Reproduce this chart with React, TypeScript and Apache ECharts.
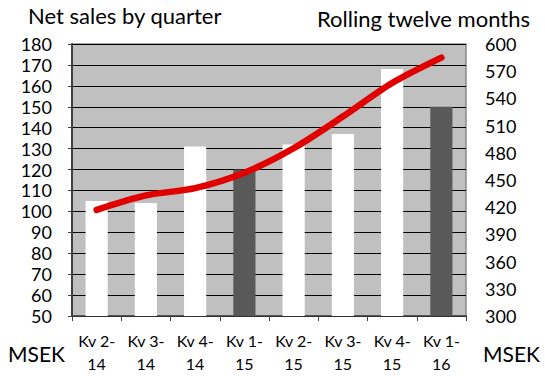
import React, { useEffect, useRef } from "react";
import * as echarts from "echarts";

const categories = ["Kv 2-\n14", "Kv 3-\n14", "Kv 4-\n14", "Kv 1-\n15", "Kv 2-\n15", "Kv 3-\n15", "Kv 4-\n15", "Kv 1-\n16"];
const quarterSales = [105, 104, 131, 120, 132, 137, 168, 150];
const highlighted = [false, false, false, true, false, false, false, true];
const rollingTwelve = [417, 433, 441, 458, 485, 520, 557, 585];

const FONT = "Lato";

export default function App() {
  const ref = useRef<HTMLDivElement>(null);
  useEffect(() => {
    if (!ref.current) return;
    const chart = echarts.init(ref.current, undefined, { renderer: "svg" });
    const label = (text: string, x: number, y: number, align: string, size: number) => ({
      type: "text",
      x,
      y,
      style: { text, fontFamily: FONT, fontSize: size, fill: "#000", align, verticalAlign: "middle" },
    });
    chart.setOption({
      animation: false,
      backgroundColor: "#ffffff",
      textStyle: { fontFamily: FONT },
      grid: {
        left: 72,
        right: 79,
        top: 44,
        bottom: 60,
        outerBoundsMode: "none",
        show: true,
        backgroundColor: "#c0c0c0",
        borderColor: "#8c8c8c",
        borderWidth: 1.5,
      },
      graphic: [
        label("Net sales by quarter", 28, 15, "left", 22),
        label("Rolling twelve months", 530, 18, "right", 22),
        label("MSEK", 8, 353, "left", 21),
        label("MSEK", 540, 353, "right", 21),
      ],
      xAxis: {
        type: "category",
        data: categories,
        axisLine: { show: true, lineStyle: { color: "#404040", width: 1.5 } },
        axisTick: { show: true, length: 5, lineStyle: { color: "#404040" } },
        axisLabel: { color: "#000", fontFamily: FONT, fontSize: 16, lineHeight: 23, margin: 13 },
      },
      yAxis: [
        {
          type: "value",
          min: 50,
          max: 180,
          interval: 10,
          axisLine: { show: true, lineStyle: { color: "#404040", width: 2 } },
          axisTick: { show: true, length: 4, lineStyle: { color: "#404040" } },
          splitLine: { show: true, lineStyle: { color: "#000", width: 1 } },
          axisLabel: { color: "#000", fontFamily: FONT, fontSize: 18, lineHeight: 20, margin: 20 },
        },
        {
          type: "value",
          min: 300,
          max: 600,
          interval: 30,
          axisLine: { show: false },
          axisTick: { show: false },
          splitLine: { show: false },
          axisLabel: { color: "#000", fontFamily: FONT, fontSize: 18, lineHeight: 20, margin: 19 },
        },
      ],
      series: [
        {
          type: "bar",
          yAxisIndex: 0,
          barWidth: "45%",
          data: quarterSales.map((v, i) => ({
            value: v,
            itemStyle: { color: highlighted[i] ? "#595959" : "#ffffff" },
          })),
        },
        {
          type: "line",
          yAxisIndex: 1,
          data: rollingTwelve,
          smooth: 0.3,
          symbol: "none",
          lineStyle: { color: "#e00000", width: 6.5, cap: "round", join: "round" },
        },
      ],
    });
    return () => chart.dispose();
  }, []);
  return (
    <div
      ref={ref}
      style={{ position: "absolute", left: 0, top: 0, width: 545, height: 376, overflow: "hidden" }}
    />
  );
}
